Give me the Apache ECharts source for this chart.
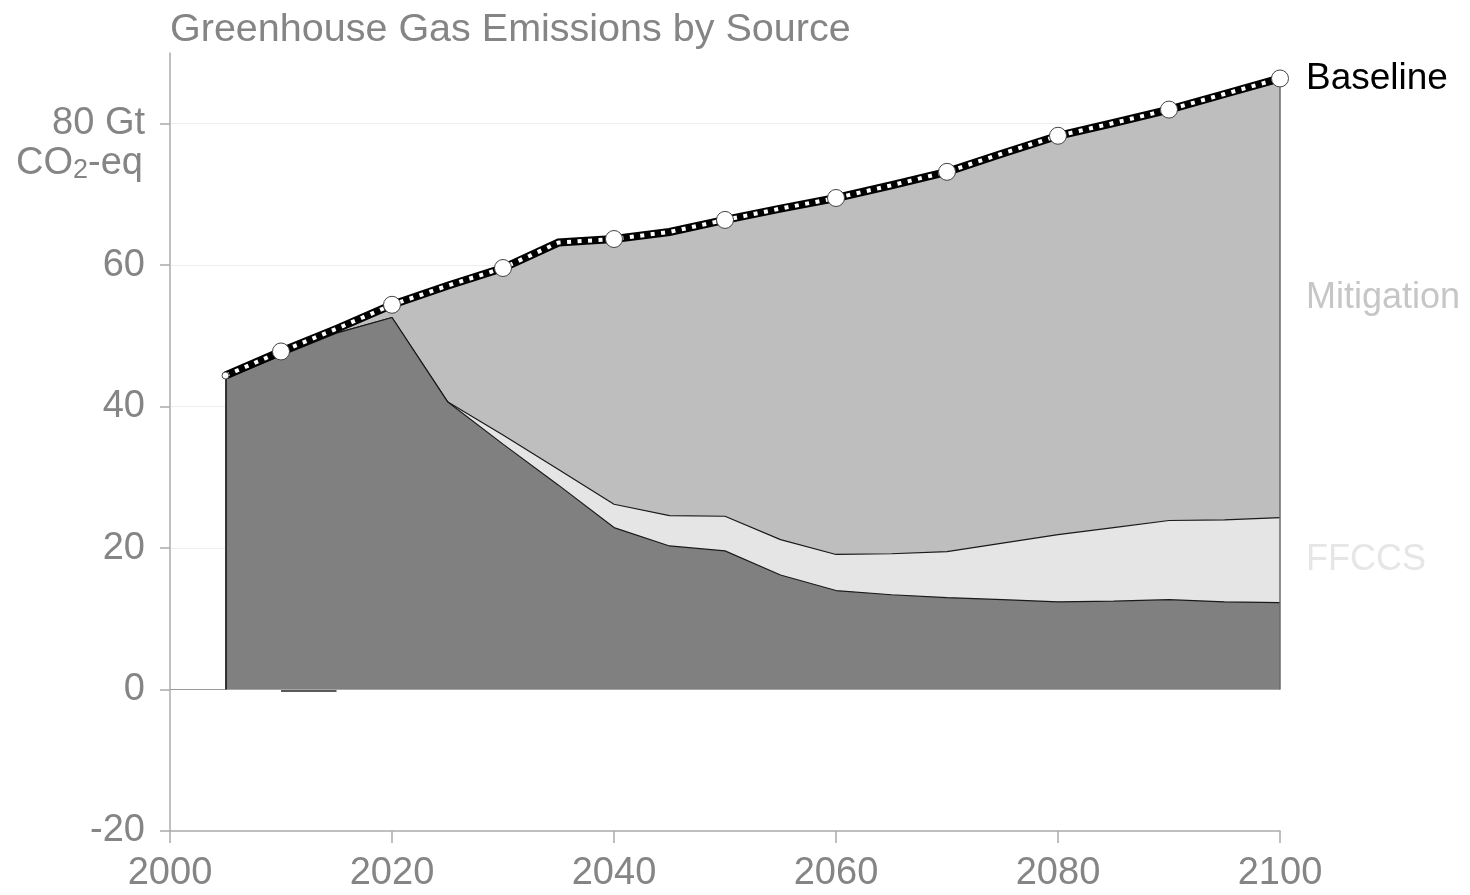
<!DOCTYPE html>
<html>
<head>
<meta charset="utf-8">
<title>Greenhouse Gas Emissions by Source</title>
<script src="https://cdn.jsdelivr.net/npm/echarts@6/dist/echarts.min.js"></script>
<style>
  html, body { margin: 0; padding: 0; background: #ffffff; }
  #chart { width: 1470px; height: 895px; }
</style>
</head>
<body>
<div id="chart"></div>
<script>
// Years of the scenario (5-year steps)
const years = [2005, 2010, 2015, 2020, 2025, 2030, 2035, 2040, 2045, 2050,
               2055, 2060, 2065, 2070, 2075, 2080, 2085, 2090, 2095, 2100];

// Baseline emissions, Gt CO2-eq
const baseline = [44.4, 47.8, 51.0, 54.4, 57.1, 59.6, 63.2, 63.7, 64.7, 66.4,
                  68.0, 69.5, 71.3, 73.2, 75.8, 78.3, 80.1, 82.0, 84.2, 86.4];

// Remaining emissions after mitigation (dark band)
const residual = [44.0, 47.2, 50.4, 52.6, 40.7, 34.7, 28.9, 22.9, 20.3, 19.6,
                  16.2, 14.0, 13.4, 13.0, 12.7, 12.4, 12.5, 12.7, 12.4, 12.3];

// Fossil fuel carbon capture and storage (light band)
const ffccs = [0, 0, 0, 0, 0, 1.3, 2.2, 3.3, 4.3, 4.9,
               5.0, 5.1, 5.8, 6.5, 8.0, 9.5, 10.4, 11.2, 11.6, 12.0];

// Small net-negative sliver around 2010-2015
const netNegative = [null, -0.2, -0.2, null, null, null, null, null, null, null,
                     null, null, null, null, null, null, null, null, null, null];

// Axis ticks
const xTickInterval = 20;
const yTickValues = [-20, 0, 20, 40, 60, 80];

// Series names
const names = { residual: 'Emissions', ffccs: 'FFCCS', mitigation: 'Mitigation', baseline: 'Baseline' };

// Cumulative band tops: residual, residual + FFCCS, and the baseline (top of mitigation)
const ffccsTop = residual.map((r, i) => +(r + ffccs[i]).toFixed(2));

const pair = arr => years.map((y, i) => [y, arr[i]]);

const FONT = '"Liberation Sans", Arial, Helvetica, sans-serif';
const GREY_TEXT = '#858585';
const AXIS_GREY = '#ababab';

const last = years.length - 1;
const midMitigation = (ffccsTop[last] + baseline[last]) / 2;
const midFfccs = (residual[last] + ffccsTop[last]) / 2;

const chart = echarts.init(document.getElementById('chart'), null, { renderer: 'canvas' });

const option = {
  animation: false,
  backgroundColor: '#ffffff',
  textStyle: { fontFamily: FONT },
  title: {
    text: 'Greenhouse Gas Emissions by Source',
    left: 170, top: 10, padding: 0,
    textStyle: { fontFamily: FONT, fontSize: 39.5, fontWeight: 'normal', color: GREY_TEXT }
  },
  grid: { left: 170, right: 190, top: 53, bottom: 64, containLabel: false },
  xAxis: {
    type: 'value',
    min: 2000, max: 2100, interval: xTickInterval,
    axisLine: { onZero: false, lineStyle: { color: AXIS_GREY, width: 1.5 } },
    axisTick: { length: 12, lineStyle: { color: AXIS_GREY, width: 1.5 } },
    axisLabel: { color: GREY_TEXT, fontSize: 38, margin: 24, fontFamily: FONT,
                 formatter: v => String(v) },
    splitLine: { show: false }
  },
  yAxis: {
    type: 'value',
    min: -20, max: 90, interval: 20,
    axisLine: { show: true, lineStyle: { color: AXIS_GREY, width: 1.5 } },
    axisTick: { show: true, length: 10, customValues: yTickValues,
                lineStyle: { color: AXIS_GREY, width: 1.5 } },
    axisLabel: { color: GREY_TEXT, fontSize: 38, margin: 25, fontFamily: FONT,
                 customValues: yTickValues,
                 formatter: v => (v === 80 ? '80 Gt' : String(v)) },
    splitLine: { show: true,
                 lineStyle: { color: ['rgba(0,0,0,0)', '#9a9a9a', '#eeeeee', '#eeeeee', '#eeeeee', '#eeeeee'], width: 1.2 } }
  },
  series: [
    {
      // mitigation band: everything up to the baseline, later covered by the lower bands
      name: names.mitigation, type: 'line',
      data: pair(baseline), symbol: 'none', z: 1,
      lineStyle: { width: 0 },
      areaStyle: { color: '#bebebe', opacity: 1, origin: 0 }
    },
    {
      name: names.ffccs, type: 'line',
      data: pair(ffccsTop), symbol: 'none', z: 2,
      lineStyle: { color: '#1a1a1a', width: 1.2 },
      areaStyle: { color: '#e5e5e5', opacity: 1, origin: 0 }
    },
    {
      name: names.residual, type: 'line',
      data: pair(residual), symbol: 'none', z: 3,
      lineStyle: { color: '#1a1a1a', width: 1.2 },
      areaStyle: { color: '#808080', opacity: 1, origin: 0 }
    },
    {
      name: 'negative', type: 'line',
      data: pair(netNegative), symbol: 'none', connectNulls: false, z: 3,
      lineStyle: { color: '#222', width: 1.6 }
    },
    {
      name: names.baseline + ' outline', type: 'line',
      data: pair(baseline), symbol: 'none', z: 4,
      lineStyle: { color: '#000000', width: 8, cap: 'butt', join: 'miter' },
      // left and right edges of the stacked bands
      markLine: {
        silent: true, symbol: 'none', label: { show: false },
        data: [
          [{ coord: [years[0], 0], lineStyle: { color: '#111', width: 1.5, type: 'solid' } },
           { coord: [years[0], residual[0]] }],
          [{ coord: [years[last], 0], lineStyle: { color: '#6a6a6a', width: 1.5, type: 'solid' } },
           { coord: [years[last], baseline[last]] }]
        ]
      },
      markPoint: {
        silent: true, symbol: 'circle', symbolSize: 0,
        label: {
          show: true, position: 'right', distance: 26, fontSize: 36, fontFamily: FONT,
          formatter: p => p.name
        },
        data: [
          { name: names.mitigation, coord: [years[last], midMitigation], label: { color: '#c6c6c6' } },
          { name: names.ffccs, coord: [years[last], midFfccs], label: { color: '#e6e6e6' } }
        ]
      }
    },
    {
      name: names.baseline, type: 'line',
      data: pair(baseline), z: 5,
      symbol: 'circle',
      showAllSymbol: true,
      symbolSize: (val) => (val[0] === years[0] ? 7 : (val[0] % 10 === 0 ? 17 : 0)),
      itemStyle: { color: '#ffffff', borderColor: '#444444', borderWidth: 1 },
      lineStyle: { color: '#ffffff', width: 4, type: [4, 6.5], cap: 'butt' },
      endLabel: {
        show: true, formatter: names.baseline, color: '#000000',
        fontSize: 37, fontFamily: FONT, distance: 26
      }
    }
  ]
};

chart.setOption(option);

// Unit line under the "80 Gt" tick label
const y80 = chart.convertToPixel({ yAxisIndex: 0 }, 80);
chart.setOption({
  graphic: [{
    type: 'text', x: 143, y: y80 + 40, silent: true,
    style: {
      text: '{b|CO}{s|2}{b|-eq}',
      align: 'right', verticalAlign: 'middle',
      fill: GREY_TEXT, font: '38px ' + FONT,
      rich: {
        b: { fontSize: 38, lineHeight: 40, fill: GREY_TEXT, fontFamily: FONT },
        s: { fontSize: 27, lineHeight: 16, verticalAlign: 'bottom', fill: GREY_TEXT, fontFamily: FONT }
      }
    }
  }]
});
</script>
</body>
</html>
